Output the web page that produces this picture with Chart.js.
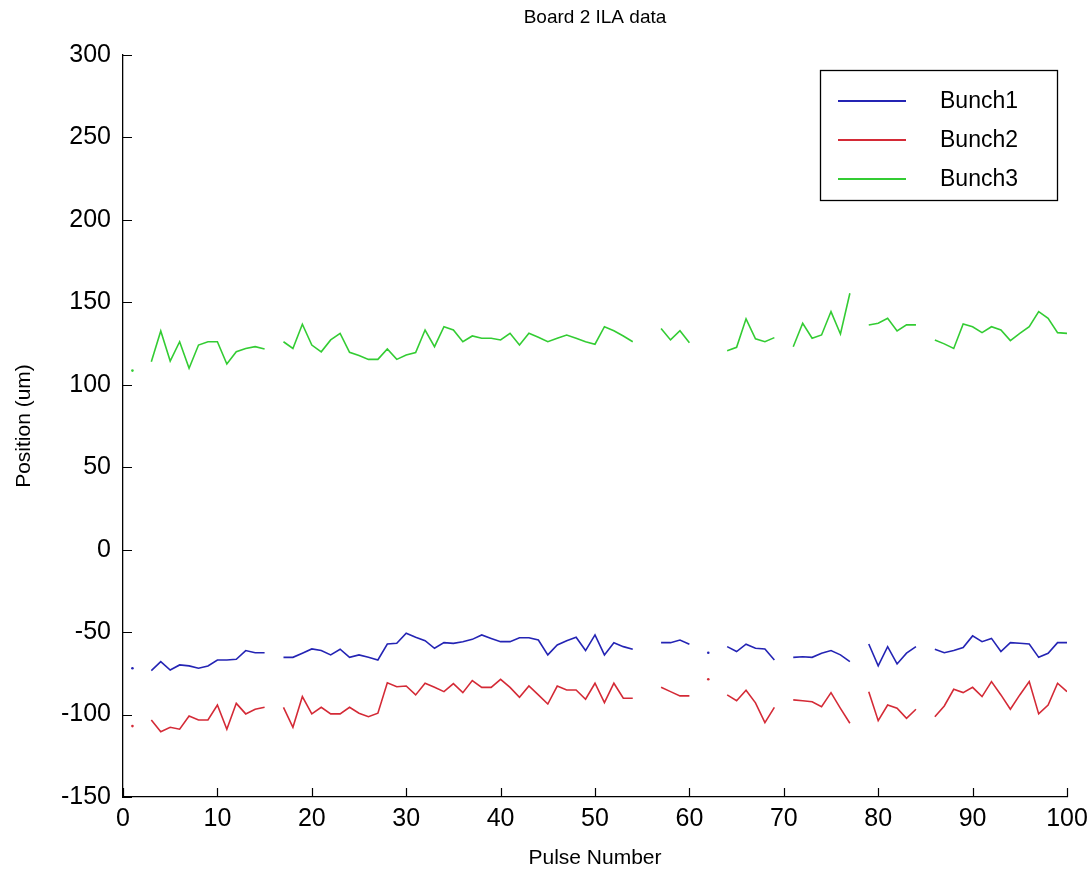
<!DOCTYPE html>
<html>
<head>
<meta charset="utf-8">
<title>Board 2 ILA data</title>
<script src="https://cdn.jsdelivr.net/npm/chart.js@4.4.1/dist/chart.umd.min.js"></script>
<style>
	html, body { margin: 0; padding: 0; background: #ffffff; }
	#wrap { width: 1088px; height: 873px; position: relative; }
</style>
</head>
<body>
<div id="wrap"><canvas id="lineChart"></canvas></div>
<script>
// values, one per pulse (null = no sample, line breaks there)
var bunch1 = [-71.9, null, -73.4, -67.9, -73.0, -69.9, -70.5, -71.9, -70.5, -66.9,
	-66.9, -66.5, -61.2, -62.5, -62.5, null, -65.3, -65.3, -62.8, -60.2,
	-61.2, -63.8, -60.4, -65.3, -63.8, -65.3, -66.9, -57.2, -56.8, -50.7,
	-53.1, -55.2, -59.8, -56.4, -56.8, -55.8, -54.4, -51.7, -53.8, -55.8,
	-55.8, -53.4, -53.4, -54.8, -63.8, -57.8, -55.2, -53.1, -61.2, -51.7,
	-63.8, -56.4, -58.8, -60.4, null, null, -56.4, -56.4, -54.8, -57.4,
	null, -62.5, null, -58.8, -61.8, -57.3, -59.8, -60.2, -66.9, null,
	-65.3, -64.9, -65.3, -62.8, -61.2, -63.8, -67.9, null, -57.2, -70.5,
	-58.8, -69.3, -62.8, -58.8, null, -60.4, -62.5, -61.2, -59.4, -52.3,
	-55.8, -53.8, -61.8, -56.4, -56.8, -57.2, -65.3, -62.8, -56.4, -56.4];

var bunch2 = [-107.0, null, -103.3, -110.4, -107.7, -108.9, -100.9, -103.3, -103.3, -94.2,
	-108.9, -93.2, -99.6, -96.8, -95.6, null, -95.6, -107.7, -89.1, -99.6,
	-95.6, -99.6, -99.6, -95.6, -99.2, -101.3, -99.2, -80.7, -83.1, -82.7,
	-88.1, -81.0, -83.5, -86.1, -81.2, -86.7, -79.4, -83.5, -83.5, -78.6,
	-83.5, -89.5, -82.7, -88.1, -93.6, -82.7, -85.1, -85.1, -90.7, -81.0,
	-92.8, -81.0, -90.1, -90.1, null, null, -83.5, -86.1, -88.7, -88.7,
	null, -78.6, null, -88.1, -91.6, -85.3, -92.9, -104.9, -95.6, null,
	-91.1, -91.6, -92.2, -95.2, -86.7, -96.2, -105.3, null, -86.1, -103.7,
	-94.2, -96.2, -102.3, -96.8, null, -101.3, -94.8, -84.7, -86.7, -83.5,
	-89.1, -80.0, -88.1, -96.8, -88.1, -80.0, -99.6, -94.2, -81.0, -86.1];

var bunch3 = [108.6, null, 114.0, 132.6, 114.4, 126.1, 110.0, 124.1, 126.1, 126.1,
	112.6, 120.0, 122.0, 123.1, 121.7, null, 126.1, 122.0, 136.7, 124.1,
	120.0, 127.2, 131.2, 119.7, 117.7, 115.4, 115.4, 121.7, 115.4, 118.0,
	119.5, 133.2, 123.1, 135.2, 133.2, 126.1, 129.6, 128.2, 128.2, 127.2,
	131.2, 124.1, 131.2, 128.8, 126.1, 128.2, 130.2, 128.2, 126.1, 124.6,
	135.2, 132.8, 129.6, 126.1, null, null, 134.2, 127.2, 132.8, 125.5,
	null, null, null, 120.7, 122.7, 140.0, 127.9, 126.1, 128.6, null,
	123.1, 137.3, 128.2, 130.2, 144.4, 130.8, 155.5, null, 136.3, 137.3,
	140.3, 132.6, 136.3, 136.3, null, 127.2, 124.8, 122.0, 136.9, 135.2,
	131.6, 135.2, 133.2, 126.8, 131.2, 135.2, 144.4, 140.3, 131.6, 131.2];

var seriesNames = ["Bunch1", "Bunch2", "Bunch3"];
var seriesColours = ["#2424b4", "#d42a36", "#33cc33"];
var xTicks = [0, 10, 20, 30, 40, 50, 60, 70, 80, 90, 100];
var yTicks = [-150, -100, -50, 0, 50, 100, 150, 200, 250, 300];
var chartTitle = "Board 2 ILA data";
var xTitle = "Pulse Number";
var yTitle = "Position (um)";

var fontName = "'Liberation Sans', Arial, sans-serif";

window.onload = function(){

	function toPoints(values){//pulse numbers start at 1
		var pts = [];
		for (var i = 0; i < values.length; i++){
			pts.push({x: i + 1, y: values[i]});
		}
		return pts;
	}

	function lonePoint(ctx){//a sample with gaps on both sides gets a tiny dot, like the plot shows
		var d = ctx.dataset.data;
		var i = ctx.dataIndex;
		if (d[i].y === null) return 0;
		var before = i === 0 || d[i - 1].y === null;
		var after = i === d.length - 1 || d[i + 1].y === null;
		return (before && after) ? 1.3 : 0;
	}

	var allSeries = [bunch1, bunch2, bunch3];
	var datasets = [];
	for (var s = 0; s < allSeries.length; s++){
		datasets.push({
			label: seriesNames[s],
			data: toPoints(allSeries[s]),
			borderColor: seriesColours[s],
			backgroundColor: seriesColours[s],
			borderWidth: 1.6,
			pointRadius: lonePoint,
			pointBorderWidth: 0,
			pointHoverRadius: 0,
			tension: 0,
			spanGaps: false
		});
	}

	// draws the inward tick marks, the title and the boxed legend the way MATLAB does
	var matlabBits = {
		id: "matlabBits",
		afterDraw: function(chart){
			var c = chart.ctx;
			var area = chart.chartArea;
			var xs = chart.scales.x;
			var ys = chart.scales.y;
			c.save();
			c.strokeStyle = "#000000";
			c.lineWidth = 1.2;
			c.beginPath();
			for (var i = 0; i < yTicks.length; i++){
				var py = Math.round(ys.getPixelForValue(yTicks[i])) + 0.5;
				c.moveTo(area.left, py);
				c.lineTo(area.left + 9, py);
			}
			for (var j = 0; j < xTicks.length; j++){
				var px = Math.round(xs.getPixelForValue(xTicks[j])) + 0.5;
				c.moveTo(px, area.bottom);
				c.lineTo(px, area.bottom - 9);
			}
			c.stroke();

			c.fillStyle = "#000000";
			c.font = "19px " + fontName;
			c.textAlign = "center";
			c.textBaseline = "middle";
			c.fillText(chartTitle, 595, 18);

			// legend box
			var bx = 820, by = 70, bw = 237, bh = 130;
			c.fillStyle = "#ffffff";
			c.fillRect(bx, by, bw, bh);
			c.lineWidth = 1.3;
			c.strokeRect(bx + 0.5, by + 0.5, bw, bh);
			c.font = "23px " + fontName;
			c.textAlign = "left";
			for (var k = 0; k < chart.data.datasets.length; k++){
				var ds = chart.data.datasets[k];
				var ly = by + 31 + k * 39;
				c.strokeStyle = ds.borderColor;
				c.lineWidth = 1.8;
				c.beginPath();
				c.moveTo(bx + 18, ly);
				c.lineTo(bx + 86, ly);
				c.stroke();
				c.fillStyle = "#000000";
				c.fillText(ds.label, bx + 120, ly + 1);
			}
			c.restore();
		}
	};

	var ctx = document.getElementById("lineChart").getContext("2d");
	var chart = new Chart(ctx, {
		type: "line",
		data: { datasets: datasets },
		options: {
			responsive: true,
			maintainAspectRatio: false,
			animation: false,
			events: [],
			layout: { padding: { top: 55, right: 21, left: 0, bottom: 0 } },
			plugins: {
				legend: { display: false },
				title: { display: false },
				tooltip: { enabled: false }
			},
			scales: {
				x: {
					type: "linear",
					min: 0,
					max: 100,
					afterFit: function(scale){
						scale.height = 76;
						scale.paddingLeft = 0;
						scale.paddingRight = 0;
					},
					afterBuildTicks: function(scale){
						scale.ticks = xTicks.map(function(v){ return {value: v}; });
					},
					grid: { display: false, drawTicks: false },
					border: { display: true, color: "#000000", width: 1.3 },
					ticks: { color: "#000000", padding: 7, maxRotation: 0, font: { family: fontName, size: 25 } },
					title: { display: true, text: xTitle, color: "#000000", padding: { top: 0, bottom: 2 }, font: { family: fontName, size: 21 } }
				},
				y: {
					type: "linear",
					min: -150,
					max: 300,
					afterFit: function(scale){
						scale.width = 123;
						scale.paddingTop = 0;
						scale.paddingBottom = 0;
					},
					afterBuildTicks: function(scale){
						scale.ticks = yTicks.map(function(v){ return {value: v}; });
					},
					grid: { display: false, drawTicks: false },
					border: { display: true, color: "#000000", width: 1.3 },
					ticks: { color: "#000000", padding: 12, font: { family: fontName, size: 25 } },
					title: { display: true, text: yTitle, color: "#000000", padding: { top: 12, bottom: 0 }, font: { family: fontName, size: 21 } }
				}
			}
		},
		plugins: [matlabBits]
	});
};
</script>
</body>
</html>
